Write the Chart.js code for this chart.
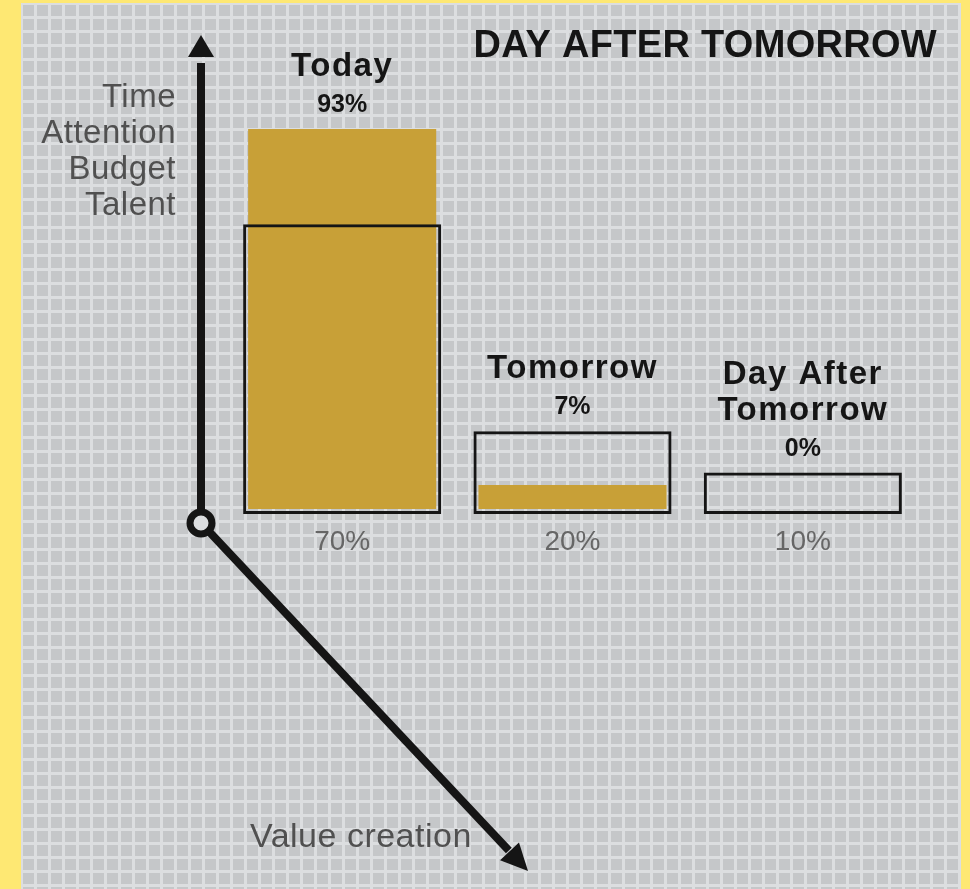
<!DOCTYPE html>
<html>
<head>
<meta charset="utf-8">
<script src="https://cdn.jsdelivr.net/npm/chart.js@4"></script>
<style>
  html, body { margin: 0; padding: 0; background: #fee873; }
  canvas { display: block; }
</style>
</head>
<body>
<canvas id="chart" width="970" height="889"></canvas>
<script>
const categories = [["Today"], ["Tomorrow"], ["Day After", "Tomorrow"]];
const allocation = [70, 20, 10];
const valueShare = [93, 7, 0];
const sideLabels = ["Time", "Attention", "Budget", "Talent"];
const bottomLabel = "Value creation";
const title = "DAY AFTER TOMORROW";

const gold = "#c8a037";
const ink = "#151515";

// yellow frame + gray graph-paper background
const paper = {
    id: "paper",
    beforeDraw: chart => {
        const ctx = chart.ctx;
        ctx.save();
        ctx.fillStyle = "#fee873";
        ctx.fillRect(0, 0, chart.width, chart.height);
        ctx.fillStyle = "#dcdee0";
        ctx.fillRect(21, 3, 940, chart.height - 3);
        ctx.fillStyle = "#c5c7c9";
        for (let x = 23; x < 961; x += 14) {
            for (let y = 5; y < chart.height; y += 14) {
                ctx.fillRect(x, y, Math.min(11, 961 - x), 11);
            }
        }
        ctx.restore();
    }
};

const arrowHead = (ctx, tx, ty, ux, uy, len, half) => {
    const bx = tx - ux * len, by = ty - uy * len;
    ctx.beginPath();
    ctx.moveTo(tx, ty);
    ctx.lineTo(bx - uy * half, by + ux * half);
    ctx.lineTo(bx + uy * half, by - ux * half);
    ctx.closePath();
    ctx.fill();
};

// axes arrows, side texts and bar labels
const decor = {
    id: "decor",
    afterDatasetsDraw: chart => {
        const ctx = chart.ctx;
        const area = chart.chartArea;
        const y0 = chart.scales.y.getPixelForValue(0);
        const ox = area.left - 26, oy = y0 + 9;
        ctx.save();
        ctx.strokeStyle = ink;
        ctx.fillStyle = ink;
        ctx.lineWidth = 8;

        // vertical axis
        ctx.beginPath();
        ctx.moveTo(ox, oy - 11);
        ctx.lineTo(ox, 63);
        ctx.stroke();
        arrowHead(ctx, ox, 35, 0, -1, 22, 13);

        // diagonal axis
        const tx = 528, ty = 871;
        const dx = tx - ox, dy = ty - oy, d = Math.hypot(dx, dy);
        const ux = dx / d, uy = dy / d;
        ctx.beginPath();
        ctx.moveTo(ox + ux * 11, oy + uy * 11);
        ctx.lineTo(tx - ux * 28, ty - uy * 28);
        ctx.stroke();
        arrowHead(ctx, tx, ty, ux, uy, 27, 13);

        // origin ring
        ctx.lineWidth = 7;
        ctx.fillStyle = "#dcdee0";
        ctx.beginPath();
        ctx.arc(ox, oy, 11, 0, Math.PI * 2);
        ctx.fill();
        ctx.stroke();

        // gray axis texts
        ctx.fillStyle = "#505050";
        ctx.font = "33px 'Liberation Sans', Arial, sans-serif";
        ctx.letterSpacing = "0.5px";
        ctx.textAlign = "right";
        ctx.textBaseline = "alphabetic";
        sideLabels.forEach((t, i) => ctx.fillText(t, 176, 107 + i * 36));
        ctx.textAlign = "left";
        ctx.font = "34px 'Liberation Sans', Arial, sans-serif";
        ctx.fillText(bottomLabel, 250, 847);

        // title
        ctx.fillStyle = ink;
        ctx.font = "bold 38px 'Liberation Sans', Arial, sans-serif";
        ctx.letterSpacing = "0.3px";
        ctx.textAlign = "right";
        ctx.fillText(title, 937, 57);

        // bar labels
        const boxes = chart.getDatasetMeta(0).data;
        const fills = chart.getDatasetMeta(1).data;
        ctx.textAlign = "center";
        boxes.forEach((box, i) => {
            const cx = box.x;
            const top = Math.min(box.y, fills[i].y);
            const pctY = top - 17;
            ctx.fillStyle = ink;
            ctx.font = "bold 25px 'Liberation Sans', Arial, sans-serif";
            ctx.letterSpacing = "0px";
            ctx.fillText(valueShare[i] + "%", cx, pctY);
            ctx.font = "bold 33px 'Liberation Sans', Arial, sans-serif";
            ctx.letterSpacing = "1.5px";
            const lines = categories[i];
            lines.forEach((t, j) => {
                ctx.fillText(t, cx, pctY - 36 * (lines.length - j));
            });
            ctx.fillStyle = "#666";
            ctx.font = "28px 'Liberation Sans', Arial, sans-serif";
            ctx.letterSpacing = "0px";
            ctx.fillText(allocation[i] + "%", cx, y0 + 36);
        });
        ctx.restore();
    }
};

new Chart(document.getElementById("chart").getContext("2d"), {
    type: "bar",
    data: {
        labels: categories,
        datasets: [{
            label: "Allocation",
            data: allocation,
            backgroundColor: "rgba(0,0,0,0)",
            borderColor: ink,
            borderWidth: 3,
            borderSkipped: false,
            grouped: false,
            barPercentage: 0.86,
            categoryPercentage: 1
        }, {
            label: "Value",
            data: valueShare,
            backgroundColor: gold,
            borderColor: "rgba(0,0,0,0)",
            borderWidth: {left: 5, right: 5, top: 0, bottom: 5},
            borderSkipped: false,
            grouped: false,
            barPercentage: 0.86,
            categoryPercentage: 1
        }]
    },
    options: {
        responsive: false,
        animation: false,
        devicePixelRatio: 1,
        layout: {
            padding: {left: 227, right: 52, top: 100, bottom: 375}
        },
        scales: {
            x: {display: false},
            y: {display: false, min: 0, max: 100}
        },
        plugins: {
            legend: {display: false},
            tooltip: {enabled: false}
        }
    },
    plugins: [paper, decor]
});
</script>
</body>
</html>
